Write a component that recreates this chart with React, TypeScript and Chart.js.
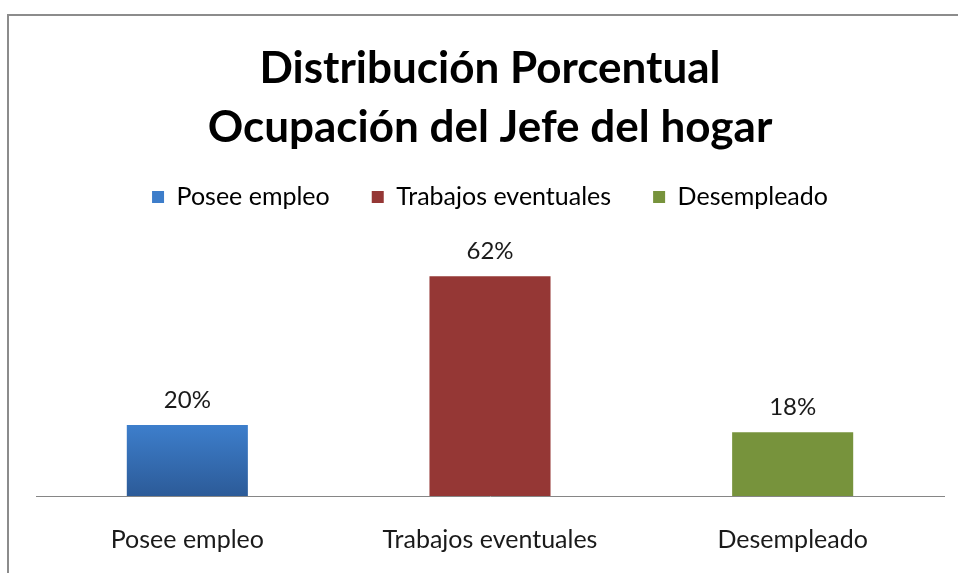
import React, { useEffect, useRef } from "react";
import { Chart, registerables } from "chart.js";

Chart.register(...registerables);

const categories = ["Posee empleo", "Trabajos eventuales", "Desempleado"];
const values = [20, 62, 18];
const titleLines = ["Distribución Porcentual", "Ocupación del Jefe del hogar"];
const FONT = "Lato, 'Open Sans', sans-serif";

const framePlugin = {
  id: "frame",
  beforeDraw(chart: any) {
    const ctx = chart.ctx;
    ctx.save();
    ctx.fillStyle = "#ffffff";
    ctx.fillRect(0, 0, chart.width, chart.height);
    ctx.strokeStyle = "#8c8c8c";
    ctx.lineWidth = 2;
    ctx.beginPath();
    ctx.moveTo(8, chart.height);
    ctx.lineTo(8, 15);
    ctx.lineTo(chart.width, 15);
    ctx.stroke();
    ctx.restore();
  },
};

const labelPlugin = {
  id: "valueLabels",
  afterDatasetsDraw(chart: any) {
    const ctx = chart.ctx;
    const meta = chart.getDatasetMeta(0);
    ctx.save();
    ctx.font = `24px ${FONT}`;
    ctx.fillStyle = "#1a1a1a";
    ctx.textAlign = "center";
    ctx.textBaseline = "middle";
    meta.data.forEach((bar: any, i: number) => {
      ctx.fillText(`${values[i]}%`, bar.x, bar.y - 25);
    });
    ctx.restore();
  },
};

const solid = ["#3d7dca", "#953735", "#77933c"];

export default function App() {
  const ref = useRef<HTMLCanvasElement>(null);
  useEffect(() => {
    if (!ref.current) return;
    const chart = new Chart(ref.current, {
      type: "bar",
      data: {
        labels: categories,
        datasets: [
          {
            data: values,
            backgroundColor: (c: any) => {
              const i = c.dataIndex;
              const area = c.chart.chartArea;
              if (i === 0 && area) {
                const g = c.chart.ctx.createLinearGradient(0, area.bottom - 70, 0, area.bottom);
                g.addColorStop(0, "#3d7ecb");
                g.addColorStop(1, "#2c5b98");
                return g;
              }
              return solid[i];
            },
            barPercentage: 0.4,
            categoryPercentage: 1,
          },
        ],
      },
      options: {
        responsive: false,
        animation: false,
        layout: { padding: { left: 36, right: 14, top: 0, bottom: 0 } },
        plugins: {
          title: {
            display: true,
            text: titleLines,
            color: "#000000",
            font: { family: FONT, size: 44, weight: "bold", lineHeight: 1.34 },
            padding: { top: 39.5, bottom: -15 },
          },
          legend: {
            display: true,
            labels: {
              font: { family: FONT, size: 25 },
              color: "#1a1a1a",
              boxWidth: 12,
              boxHeight: 12,
              padding: 42,
              generateLabels: () =>
                categories.map((c, i) => ({
                  text: c,
                  fillStyle: solid[i],
                  strokeStyle: solid[i],
                  lineWidth: 0,
                  hidden: false,
                  index: i,
                })),
            },
          },
          tooltip: { enabled: false },
        },
        scales: {
          x: {
            grid: { display: false, drawTicks: false },
            border: { display: true, color: "#868686", width: 1 },
            ticks: { font: { family: FONT, size: 25 }, color: "#1a1a1a", padding: 29 },
            afterFit: (scale: any) => {
              scale.height = 77;
            },
          },
          y: {
            display: false,
            min: 0,
            max: 78,
          },
        },
      },
      plugins: [framePlugin, labelPlugin],
    });
    return () => chart.destroy();
  }, []);
  return (
    <canvas
      ref={ref}
      width={958}
      height={573}
      style={{ position: "absolute", left: 0, top: 0, display: "block" }}
    />
  );
}
